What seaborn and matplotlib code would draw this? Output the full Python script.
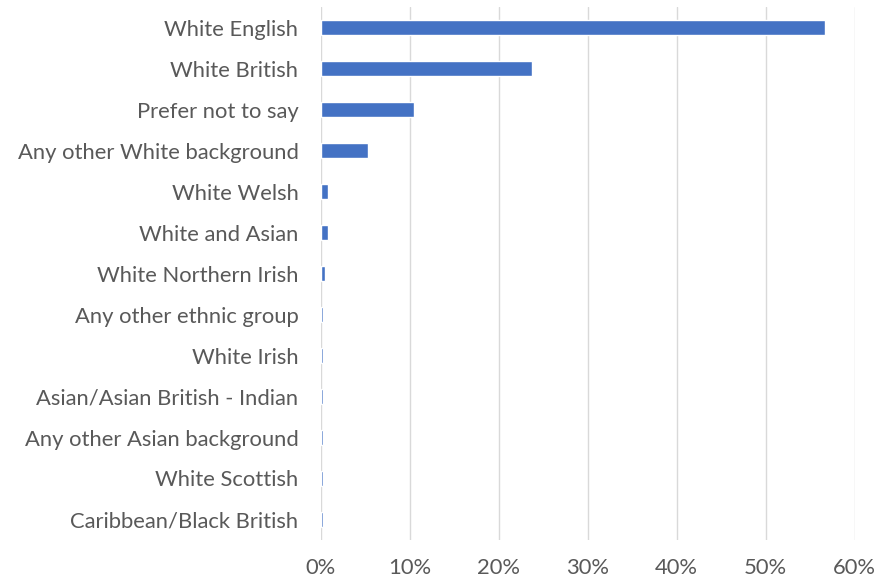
import matplotlib
matplotlib.use("Agg")
import matplotlib.pyplot as plt
import seaborn as sns
import pandas as pd
from matplotlib.ticker import PercentFormatter

categories = [
    "White English",
    "White British",
    "Prefer not to say",
    "Any other White background",
    "White Welsh",
    "White and Asian",
    "White Northern Irish",
    "Any other ethnic group",
    "White Irish",
    "Asian/Asian British - Indian",
    "Any other Asian background",
    "White Scottish",
    "Caribbean/Black British",
]
shares = [56.7, 23.7, 10.5, 5.3, 0.8, 0.8, 0.5, 0.3, 0.3, 0.3, 0.3, 0.3, 0.3]
ticks = [0, 10, 20, 30, 40, 50, 60]

df = pd.DataFrame({"group": categories, "share": shares})

sns.set_theme(style="white")
plt.rcParams["font.family"] = ["Lato", "DejaVu Sans"]

fig = plt.figure(figsize=(8.81, 5.83), dpi=100)
ax = fig.add_axes([0.364, 0.0738, 0.606, 0.914])

sns.barplot(data=df, x="share", y="group", orient="h", color="#4472C4",
            saturation=1, width=0.36, ax=ax)

ax.set_xlim(0, 60)
ax.set_ylim(len(categories) - 0.5, -0.5)
ax.set_xticks(ticks)
ax.xaxis.set_major_formatter(PercentFormatter(decimals=0))
ax.grid(axis="x", color="#D9D9D9", linewidth=1.0)
ax.set_axisbelow(True)
for s in ax.spines.values():
    s.set_visible(False)
ax.set_xlabel("")
ax.set_ylabel("")
ax.tick_params(axis="both", length=0, labelsize=15.8, labelcolor="#595959")
ax.tick_params(axis="y", pad=16)
ax.tick_params(axis="x", pad=13)

fig.savefig("out.png", dpi=100)
